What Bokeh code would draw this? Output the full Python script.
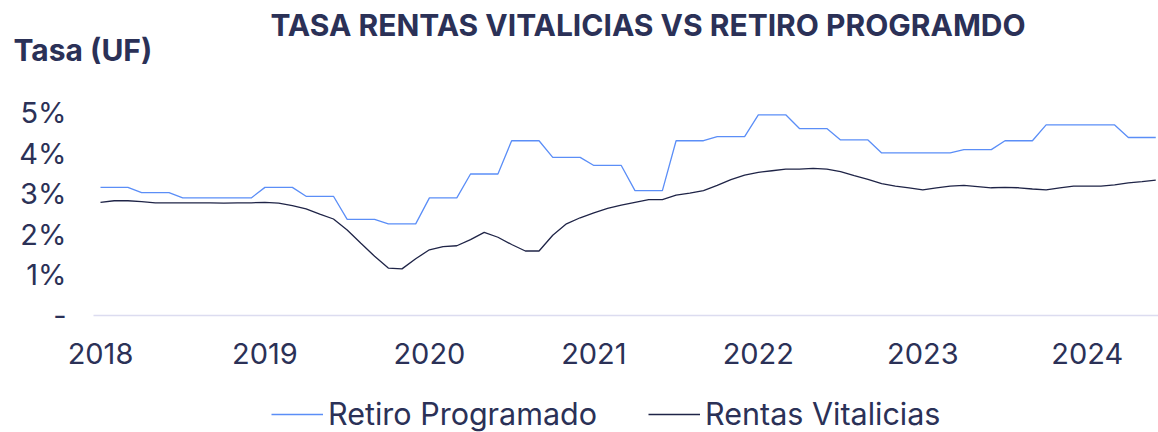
import pandas as pd
from bokeh.plotting import figure
from bokeh.models import FixedTicker, Range1d, Legend, LegendItem, Label
from bokeh.embed import file_html
from bokeh.resources import INLINE

# ---- data (monthly, Jan 2018 - Jun 2024) ----
months = pd.date_range("2018-01-01", "2024-06-01", freq="MS").strftime("%Y-%m").tolist()
year_labels = ["2018", "2019", "2020", "2021", "2022", "2023", "2024"]
y_tick_labels = ["-", "1%", "2%", "3%", "4%", "5%"]

retiro_programado = [
    3.16, 3.16, 3.16, 3.03, 3.03, 3.03, 2.90, 2.90, 2.90, 2.90, 2.90, 2.90,
    3.16, 3.16, 3.16, 2.94, 2.94, 2.94, 2.37, 2.37, 2.37, 2.26, 2.26, 2.26,
    2.90, 2.90, 2.90, 3.49, 3.49, 3.49, 4.31, 4.31, 4.31, 3.90, 3.90, 3.90,
    3.70, 3.70, 3.70, 3.08, 3.08, 3.08, 4.31, 4.31, 4.31, 4.41, 4.41, 4.41,
    4.95, 4.95, 4.95, 4.61, 4.61, 4.61, 4.33, 4.33, 4.33, 4.01, 4.01, 4.01,
    4.01, 4.01, 4.01, 4.09, 4.09, 4.09, 4.31, 4.31, 4.31, 4.70, 4.70, 4.70,
    4.70, 4.70, 4.70, 4.39, 4.39, 4.39,
]
rentas_vitalicias = [
    2.79, 2.83, 2.83, 2.81, 2.78, 2.78, 2.78, 2.78, 2.78, 2.77, 2.78, 2.78,
    2.79, 2.77, 2.71, 2.63, 2.50, 2.38, 2.11, 1.78, 1.46, 1.17, 1.15, 1.40,
    1.62, 1.70, 1.72, 1.87, 2.05, 1.93, 1.75, 1.59, 1.59, 1.98, 2.26, 2.41,
    2.53, 2.64, 2.72, 2.79, 2.86, 2.86, 2.97, 3.02, 3.08, 3.21, 3.35, 3.46,
    3.53, 3.57, 3.61, 3.61, 3.63, 3.61, 3.55, 3.45, 3.36, 3.25, 3.19, 3.15,
    3.10, 3.15, 3.19, 3.21, 3.18, 3.15, 3.16, 3.15, 3.12, 3.10, 3.15, 3.19,
    3.19, 3.19, 3.22, 3.27, 3.30, 3.34,
]

x = list(range(len(months)))
year_ticks = [months.index(y + "-01") for y in year_labels]

TEXT = "#2b3157"
BLUE = "#5b8ef7"
DARK = "#1f2447"
FONT = "Inter"
FS = "29px"

X0, X1 = -0.51, 77.2  # data extent of the axis line

p = figure(width=1158, height=432, output_backend="svg", toolbar_location=None,
           title=None,
           x_range=Range1d(-7.296, 77.2), y_range=Range1d(-2.886, 7.769),
           min_border=0)
p.outline_line_color = None
p.xgrid.visible = False
p.ygrid.visible = False
p.background_fill_color = "white"
p.border_fill_color = "white"

r1 = p.line(x, retiro_programado, line_color=BLUE, line_width=1.3)
r2 = p.line(x, rentas_vitalicias, line_color=DARK, line_width=1.3)

# x axis (drawn at y = 0)
xa = p.xaxis[0]
xa.fixed_location = 0
xa.bounds = (X0, X1)
xa.ticker = FixedTicker(ticks=year_ticks)
xa.major_label_overrides = {t: l for t, l in zip(year_ticks, year_labels)}
xa.axis_line_color = "#dcdcf0"
xa.axis_line_width = 1.5
xa.major_tick_line_color = None
xa.minor_tick_line_color = None
xa.major_tick_out = 0
xa.major_tick_in = 0
xa.major_label_standoff = 28
xa.major_label_text_font = FONT
xa.major_label_text_font_size = FS
xa.major_label_text_color = TEXT

# y axis (at left edge of data area)
ya = p.yaxis[0]
ya.fixed_location = X0
ya.ticker = FixedTicker(ticks=list(range(len(y_tick_labels))))
ya.major_label_overrides = {i: l for i, l in enumerate(y_tick_labels)}
ya.axis_line_color = None
ya.major_tick_line_color = None
ya.minor_tick_line_color = None
ya.major_tick_out = 0
ya.major_tick_in = 0
ya.major_label_standoff = 27
ya.major_label_text_font = FONT
ya.major_label_text_font_size = FS
ya.major_label_text_color = TEXT

# titles
p.add_layout(Label(x=270, y=408, x_units="screen", y_units="screen",
                   text="TASA RENTAS VITALICIAS VS RETIRO PROGRAMDO",
                   text_font=FONT, text_font_style="bold", text_font_size="30px",
                   text_color=TEXT, text_baseline="alphabetic", text_align="left"))
p.add_layout(Label(x=13, y=383, x_units="screen", y_units="screen",
                   text="Tasa (UF)",
                   text_font=FONT, text_font_style="bold", text_font_size="30px",
                   text_color=TEXT, text_baseline="alphabetic", text_align="left"))

legend = Legend(items=[LegendItem(label="Retiro Programado", renderers=[r1]),
                       LegendItem(label="Rentas Vitalicias", renderers=[r2])],
                location=(271, 0), orientation="horizontal",
                padding=0, margin=0, spacing=51, label_standoff=5,
                glyph_width=52, glyph_height=20, label_height=20,
                label_text_font=FONT, label_text_font_size="30.5px",
                label_text_color=TEXT, border_line_color=None,
                background_fill_alpha=0)
p.add_layout(legend)

open("out.html", "w").write(file_html(p, INLINE))
